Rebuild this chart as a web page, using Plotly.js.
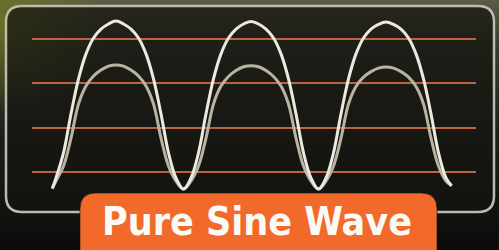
<!DOCTYPE html>
<html>
<head>
<meta charset="utf-8">
<script src="https://cdn.plot.ly/plotly-3.0.1.min.js"></script>
<style>
  html, body { margin: 0; padding: 0; background: #0c0c0c; }
  #chart {
    width: 499px; height: 250px;
    background:
      radial-gradient(ellipse 110px 90px at 0px 25px, rgba(115,125,30,0.75), rgba(115,125,30,0) 100%),
      linear-gradient(to bottom, #5c5b46 0%, #3c3b2c 18%, #1e1e19 55%, #0b0b0b 100%);
  }
</style>
</head>
<body>
<div id="chart"></div>
<script>
// ---- data (phase in degrees, amplitude in volts) ----
const gridLevels = [-300, -100, 100, 300];

const phase = [10, 20, 40, 60, 80, 100, 120, 140, 160, 180, 200, 220, 240, 260, 280, 300, 320, 340, 360,
               380, 400, 420, 440, 460, 480, 500, 520, 540, 560, 580, 600, 620, 640, 660, 680, 700, 720,
               740, 760, 780, 800, 820, 840, 860, 880, 900, 920, 940, 960, 980, 1000, 1020, 1040, 1060, 1075];

const voltOuter = [-375, -327, -214, -38, 120, 233, 305, 345, 368, 381, 368, 345, 305, 233, 120, -38, -214, -327, -377,
                   -327, -214, -38, 120, 233, 305, 345, 368, 379, 368, 345, 305, 233, 120, -38, -214, -327, -377,
                   -327, -214, -38, 120, 233, 305, 345, 366, 377, 366, 345, 305, 233, 120, -38, -214, -327, -362];

const voltInner = [-375, -341, -273, -147, 7, 88, 133, 160, 178, 183, 178, 160, 133, 88, 7, -147, -273, -341, -377,
                   -341, -273, -147, 7, 88, 131, 158, 175, 180, 175, 158, 131, 88, 7, -147, -273, -341, -377,
                   -341, -273, -147, 7, 86, 128, 153, 169, 174, 169, 153, 128, 86, 7, -147, -273, -341, -362];

const labelText = 'Pure Sine Wave';

// ---- layout helpers ----
const W = 499, H = 250;
function roundedPath(left, top, right, bottom, r) {
  const x0 = left / W, x1 = right / W, yT = 1 - top / H, yB = 1 - bottom / H;
  const rx = r / W, ry = r / H;
  return `M${x0 + rx},${yT} L${x1 - rx},${yT} Q${x1},${yT} ${x1},${yT - ry} ` +
         `L${x1},${yB + ry} Q${x1},${yB} ${x1 - rx},${yB} ` +
         `L${x0 + rx},${yB} Q${x0},${yB} ${x0},${yB + ry} ` +
         `L${x0},${yT - ry} Q${x0},${yT} ${x0 + rx},${yT} Z`;
}

const traces = [
  {
    x: phase, y: voltInner, type: 'scatter', mode: 'lines',
    line: { color: '#bab3a3', width: 3, shape: 'spline', smoothing: 1 },
    hoverinfo: 'skip'
  },
  {
    x: phase, y: voltOuter, type: 'scatter', mode: 'lines',
    line: { color: '#ece9e0', width: 3, shape: 'spline', smoothing: 1 },
    hoverinfo: 'skip'
  }
];

const layout = {
  width: W, height: H,
  margin: { l: 0, r: 0, t: 0, b: 0, pad: 0 },
  paper_bgcolor: 'rgba(0,0,0,0)',
  plot_bgcolor: 'rgba(0,0,0,0)',
  showlegend: false,
  xaxis: {
    domain: [32 / W, 476 / W],
    range: [-44, 1140],
    showgrid: false, zeroline: false, showline: false,
    showticklabels: false, ticks: '', fixedrange: true
  },
  yaxis: {
    domain: [0, 1],
    range: [-652.4, 476.3],
    tickmode: 'array', tickvals: gridLevels,
    showgrid: true, gridcolor: '#c0623d', gridwidth: 2,
    zeroline: false, showline: false,
    showticklabels: false, ticks: '', fixedrange: true
  },
  shapes: [
    {
      type: 'path', xref: 'paper', yref: 'paper', layer: 'below',
      path: roundedPath(6, 6, 494, 212, 16),
      fillcolor: 'rgba(20,20,16,0.72)',
      line: { color: '#bdbcae', width: 2.5 }
    },
    {
      type: 'path', xref: 'paper', yref: 'paper', layer: 'above',
      path: roundedPath(80, 193, 437, 268, 16),
      fillcolor: '#f26a2b',
      line: { color: 'rgba(20,20,20,0.6)', width: 1 }
    }
  ],
  annotations: [
    {
      xref: 'paper', yref: 'paper',
      x: 257 / W, y: 1 - 221 / H,
      xanchor: 'center', yanchor: 'middle',
      text: '<b>' + labelText + '</b>',
      showarrow: false,
      font: { family: '"DejaVu Sans Condensed", "Liberation Sans Narrow", sans-serif', size: 39, color: '#fbfaf4' }
    }
  ]
};

Plotly.newPlot('chart', traces, layout, { staticPlot: true, displayModeBar: false });
</script>
</body>
</html>
